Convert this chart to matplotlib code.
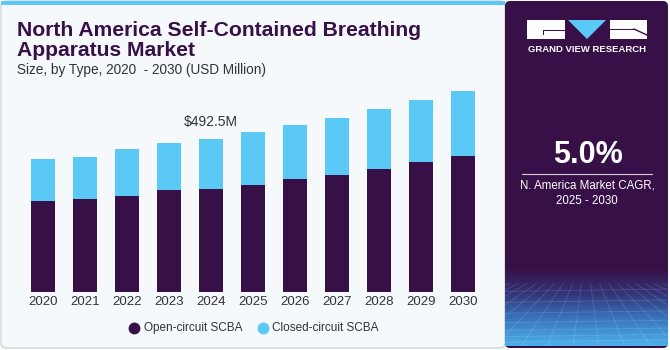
import numpy as np
import matplotlib
matplotlib.use("Agg")
import matplotlib.pyplot as plt
from matplotlib.patches import FancyBboxPatch, Rectangle, Polygon
from matplotlib.colors import LinearSegmentedColormap

plt.rcParams['font.family'] = ['Liberation Sans', 'DejaVu Sans']

# data (USD million)
years = ['2020', '2021', '2022', '2023', '2024', '2025', '2026', '2027', '2028', '2029', '2030']
open_circuit = [293.3, 298.8, 308.4, 327.7, 331.9, 344.8, 362.1, 376.9, 396.2, 416.7, 436.0]
closed_circuit = [135.0, 134.9, 150.1, 150.1, 160.6, 168.2, 174.5, 182.1, 191.8, 201.2, 210.8]
series_names = ['Open-circuit SCBA', 'Closed-circuit SCBA']
highlight_year = '2024'
highlight_label = '$492.5M'
cagr_text = '5.0%'

DARK = '#381048'
BLUE = '#5bc9f5'
BG = '#f5f9fc'
TXT = '#333333'

W, H = 670, 350
fig = plt.figure(figsize=(W / 100, H / 100), dpi=100)
fig.patch.set_facecolor('white')


def fx(px):
    return px / W


def fy(py):
    # py measured from top
    return 1 - py / H


# background layer in pixel coords (y down)
bg = fig.add_axes([0, 0, 1, 1], zorder=-10)
bg.set_xlim(0, W)
bg.set_ylim(H, 0)
bg.axis('off')
bg.add_patch(FancyBboxPatch((1, 1), 504, 347, boxstyle='round,pad=0,rounding_size=5',
                            facecolor=BG, edgecolor='#d0d4d8', linewidth=1))
bg.add_patch(Rectangle((1, 0.5), 504, 4.5, facecolor=BLUE, edgecolor='none'))
bg.add_patch(FancyBboxPatch((505, 1), 163, 347, boxstyle='round,pad=0,rounding_size=5',
                            facecolor=DARK, edgecolor='none'))

# gradient at bottom of panel
gax = fig.add_axes([fx(505), fy(346), fx(162), 78 / H], zorder=-5)
grad = np.linspace(0, 1, 100).reshape(-1, 1)
cmap = LinearSegmentedColormap.from_list('g', [DARK, '#33357a', '#3a78c0', '#4cb0e8'])
gax.imshow(grad, aspect='auto', cmap=cmap, extent=[0, 1, 0, 1], origin='upper')
for t in np.linspace(-1.5, 2.5, 26):
    gax.plot([0.5 + (t - 0.5) * 0.35, t], [0.8, 0], color='white', alpha=0.14, lw=0.6)
for yy in [0.05, 0.12, 0.2, 0.3, 0.42, 0.56, 0.7]:
    gax.plot([0, 1], [yy, yy + 0.03], color='white', alpha=0.14, lw=0.6)
gax.set_xlim(0, 1)
gax.set_ylim(0, 1)
gax.axis('off')

# logo
bg.add_patch(Rectangle((527, 20), 38, 19, facecolor='white', edgecolor='none'))
bg.add_patch(Rectangle((543, 30), 22, 1.2, facecolor=DARK, edgecolor='none'))
bg.add_patch(Rectangle((543, 30), 1.2, 5, facecolor=DARK, edgecolor='none'))
bg.add_patch(Polygon([(568, 20), (606, 20), (587, 39)], closed=True, facecolor=BLUE, edgecolor='none'))
bg.add_patch(Rectangle((610, 20), 37, 19, facecolor='white', edgecolor='none'))
bg.plot([634, 647], [29, 35], color=DARK, lw=1.0)
bg.add_patch(Rectangle((610, 29), 24, 1.2, facecolor=DARK, edgecolor='none'))

bg.text(587, 50, 'GRAND VIEW RESEARCH', color='white', fontsize=6.8,
        fontweight='bold', ha='center', va='center')
bg.text(588, 155, cagr_text, color='white', fontsize=22, fontweight='bold',
        ha='center', va='center')
bg.plot([522, 652], [173.5, 173.5], color='white', lw=0.8, alpha=0.8)
bg.text(587, 186, 'N. America Market CAGR,', color='white', fontsize=8.3,
        ha='center', va='center')
bg.text(587, 201, '2025 - 2030', color='white', fontsize=8.3,
        ha='center', va='center')
bg.text(518, 316, 'Source:', color='white', fontsize=8, fontweight='bold',
        ha='left', va='center')
bg.text(518, 331, 'www.grandviewresearch.com', color='white', fontsize=7.8,
        ha='left', va='center')

# titles
bg.text(17, 36, 'North America Self-Contained Breathing', color=DARK, fontsize=15.2,
        fontweight='bold', ha='left', va='baseline')
bg.text(17, 56.5, 'Apparatus Market', color=DARK, fontsize=15.2,
        fontweight='bold', ha='left', va='baseline')
bg.text(17, 74, 'Size, by Type, 2020  - 2030 (USD Million)', color=TXT,
        fontsize=9.8, ha='left', va='baseline')

# bar chart
ax = fig.add_axes([fx(21.8), fy(292), fx(462), (292 - 85) / H])
x = np.arange(len(years))
ax.bar(x, open_circuit, width=0.58, color=DARK, label=series_names[0], zorder=2)
ax.bar(x, closed_circuit, width=0.58, bottom=open_circuit, color=BLUE,
       label=series_names[1], zorder=2)
ax.set_xlim(-0.5, len(years) - 0.5)
ax.set_ylim(0, 665)
ax.set_xticks(x)
ax.set_xticklabels(years, fontsize=9.5, color=TXT)
ax.tick_params(axis='x', length=0, pad=3)
ax.set_yticks([])
for s in ax.spines.values():
    s.set_visible(False)
ax.set_facecolor('none')

i = years.index(highlight_year)
total = open_circuit[i] + closed_circuit[i]
ax.annotate(highlight_label, (x[i], total), xytext=(0, 7), textcoords='offset points',
            ha='center', va='bottom', fontsize=10, color=TXT)

# legend
for mx, tx, col, name in [(134, 144, DARK, series_names[0]), (263, 272, BLUE, series_names[1])]:
    bg.plot(mx, 328, marker='o', markersize=7.5, color=col, linestyle='none')
    bg.text(tx, 328, name, color=TXT, fontsize=8.5, ha='left', va='center')

fig.savefig('out.png', dpi=100, facecolor='white')
